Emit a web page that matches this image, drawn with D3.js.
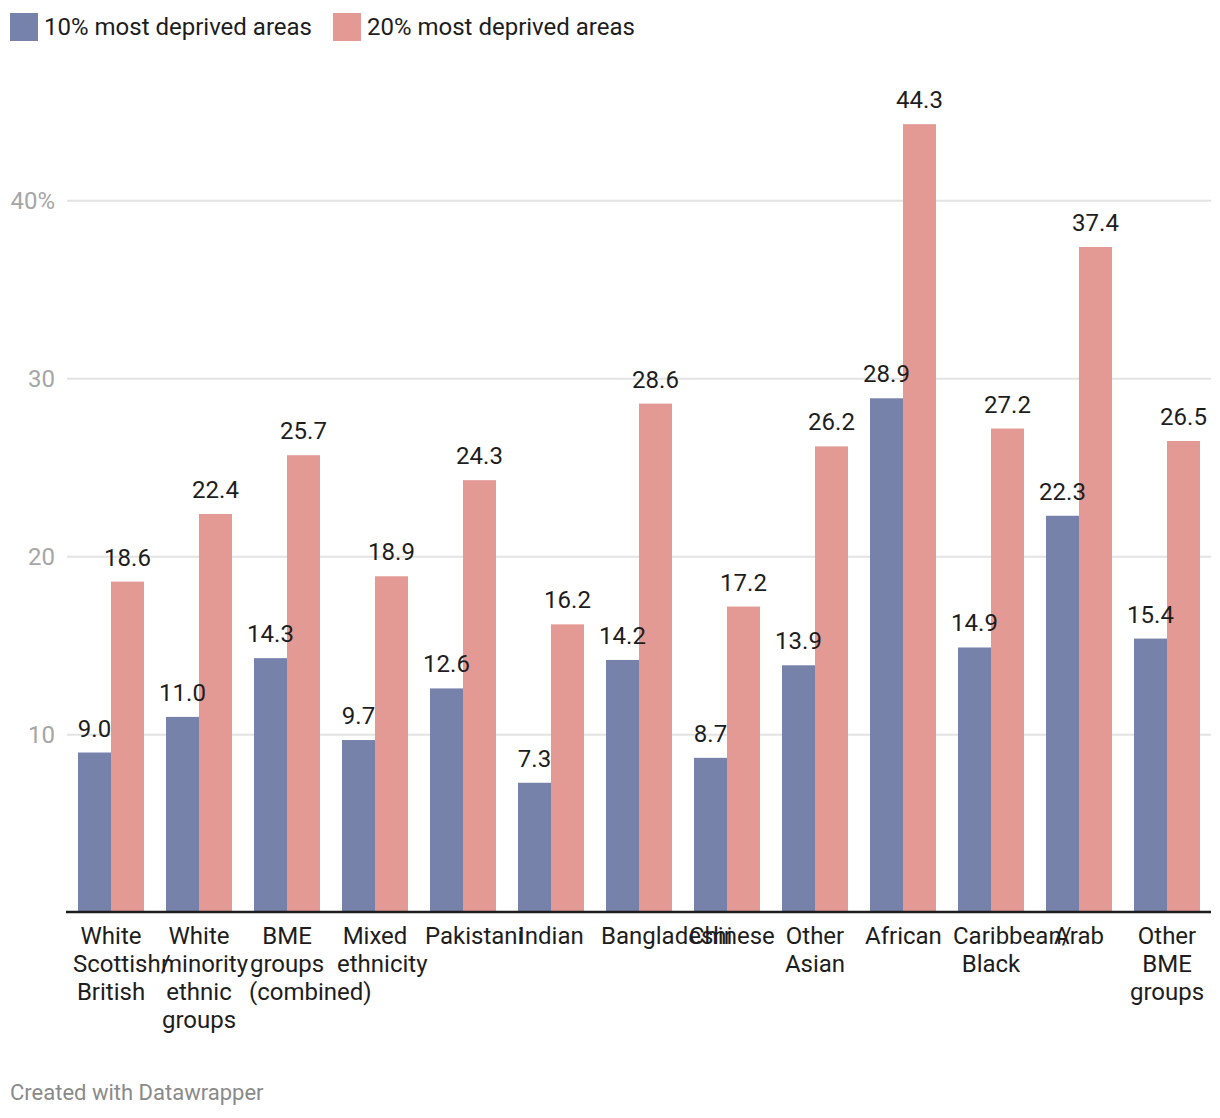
<!DOCTYPE html>
<html>
<head>
<meta charset="utf-8">
<script src="https://cdn.jsdelivr.net/npm/d3@7"></script>
<style>
  html, body { margin: 0; padding: 0; background: #fff; }
  svg { display: block; font-family: Roboto, "Noto Sans", sans-serif; }
</style>
</head>
<body>
<svg id="chart" width="1220" height="1118"></svg>
<script>
const categories = ["White Scottish/British", "White minority ethnic groups", "BME groups (combined)", "Mixed ethnicity", "Pakistani", "Indian", "Bangladeshi", "Chinese", "Other Asian", "African", "Caribbean/Black", "Arab", "Other BME groups"];
const seriesNames = ["10% most deprived areas", "20% most deprived areas"];
const values10 = [9.0, 11.0, 14.3, 9.7, 12.6, 7.3, 14.2, 8.7, 13.9, 28.9, 14.9, 22.3, 15.4];
const values20 = [18.6, 22.4, 25.7, 18.9, 24.3, 16.2, 28.6, 17.2, 26.2, 44.3, 27.2, 37.4, 26.5];
const yTicks = [10, 20, 30, 40];
const colors = ["#7782ab", "#e39a95"];
const footer = "Created with Datawrapper";

const svg = d3.select("#chart");
const x0 = d3.scaleBand().domain(categories).range([67, 1211]).paddingInner(0.25).paddingOuter(0.125);
const x1 = d3.scaleBand().domain(seriesNames).range([0, x0.bandwidth()]);
const y = d3.scaleLinear().domain([0, 40]).range([912.7, 200.7]);

// gridlines
const grid = svg.append("g");
grid.selectAll("line").data(yTicks).join("line")
  .attr("x1", 67).attr("x2", 1211)
  .attr("y1", d => y(d)).attr("y2", d => y(d))
  .attr("stroke", "#e3e3e3").attr("stroke-width", 2);
grid.selectAll("text").data(yTicks).join("text")
  .attr("x", 55).attr("y", d => y(d))
  .attr("text-anchor", "end").attr("dominant-baseline", "central")
  .attr("fill", "#a6a6a6").attr("font-size", 24)
  .text((d, i) => d + (i === yTicks.length - 1 ? "%" : ""));

// bars
const rows = categories.map((c, i) => ({ c, vals: [values10[i], values20[i]] }));
const groups = svg.append("g").selectAll("g").data(rows).join("g")
  .attr("transform", d => `translate(${x0(d.c)},0)`);
groups.selectAll("rect").data(d => d.vals.map((v, j) => ({ v, s: seriesNames[j], j }))).join("rect")
  .attr("x", d => x1(d.s)).attr("width", x1.bandwidth())
  .attr("y", d => y(d.v)).attr("height", d => y(0) - y(d.v))
  .attr("fill", d => colors[d.j]);
groups.selectAll("text").data(d => d.vals.map((v, j) => ({ v, s: seriesNames[j], j }))).join("text")
  .attr("x", d => x1(d.s) + x1.bandwidth() / 2)
  .attr("y", d => y(d.v) - 16)
  .attr("text-anchor", "middle").attr("font-size", 24).attr("fill", "#1d1d1d")
  .text(d => d3.format(".1f")(d.v));

// baseline
svg.append("line").attr("x1", 66).attr("x2", 1211).attr("y1", 912).attr("y2", 912)
  .attr("stroke", "#1d1d1d").attr("stroke-width", 2.5);

// category labels with wrapping (box width 76, overflow goes right)
const boxW = 76;
const measure = svg.append("text").attr("font-size", 24).attr("visibility", "hidden");
function tw(s) { measure.text(s); return measure.node().getComputedTextLength(); }
function wrap(label) {
  const toks = label.split(/(?<=\/)|\s+/).filter(t => t.length);
  const lines = [];
  let cur = "";
  toks.forEach(t => {
    const cand = cur === "" ? t : (cur.endsWith("/") ? cur + t : cur + " " + t);
    if (cur !== "" && tw(cand) > boxW) { lines.push(cur); cur = t; }
    else cur = cand;
  });
  if (cur) lines.push(cur);
  return lines;
}
const labG = svg.append("g");
categories.forEach(c => {
  const cx = x0(c) + x0.bandwidth() / 2;
  wrap(c).forEach((ln, k) => {
    const w = tw(ln);
    const over = w > boxW;
    labG.append("text")
      .attr("x", over ? cx - boxW / 2 : cx)
      .attr("y", 944 + k * 28)
      .attr("text-anchor", over ? "start" : "middle")
      .attr("font-size", 24).attr("fill", "#1d1d1d")
      .text(ln);
  });
});
measure.remove();

// legend
const leg = svg.append("g");
let lx = 10;
seriesNames.forEach((s, i) => {
  leg.append("rect").attr("x", lx).attr("y", 13).attr("width", 28).attr("height", 28).attr("fill", colors[i]);
  const t = leg.append("text").attr("x", lx + 34).attr("y", 27).attr("dominant-baseline", "central")
    .attr("font-size", 24).attr("fill", "#1d1d1d").text(s);
  lx = lx + 34 + t.node().getComputedTextLength() + 21;
});

// footer
svg.append("text").attr("x", 10).attr("y", 1100).attr("font-size", 22).attr("fill", "#8a8a8a").text(footer);
</script>
</body>
</html>
